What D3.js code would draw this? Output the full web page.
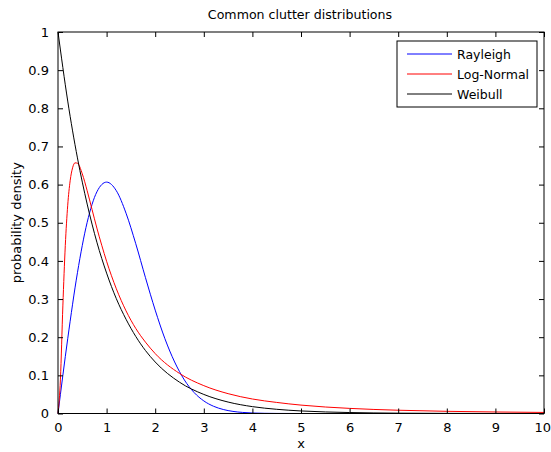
<!DOCTYPE html>
<html>
<head>
<meta charset="utf-8">
<script src="https://cdn.jsdelivr.net/npm/d3@7"></script>
<style>
  body { margin: 0; background: #fff; }
  text { font-family: "DejaVu Sans", sans-serif; fill: #000; }
</style>
</head>
<body>
<svg id="chart"></svg>
<script>
const width = 551, height = 452

// values
const rayleighX = [0, 0.2, 0.4, 0.6, 0.8, 1.0, 1.2, 1.4, 1.6, 1.8, 2.0, 2.2, 2.4, 2.6, 2.8, 3.0, 3.2, 3.4, 3.6, 3.8, 4.0, 4.5, 5, 6, 7, 8, 9, 10]
const rayleighY = [0, 0.196, 0.369, 0.501, 0.581, 0.6065, 0.584, 0.525, 0.445, 0.356, 0.271, 0.196, 0.135, 0.088, 0.055, 0.033, 0.019, 0.0105, 0.0055, 0.0028, 0.0013, 0.0002, 0, 0, 0, 0, 0, 0]

const lognormX = [0, 0.05, 0.1, 0.15, 0.2, 0.25, 0.3, 0.35, 0.4, 0.5, 0.6, 0.7, 0.8, 0.9, 1.0, 1.2, 1.4, 1.6, 1.8, 2.0, 2.5, 3, 3.5, 4, 4.5, 5, 6, 7, 8, 9, 10]
const lognormY = [0, 0.090, 0.282, 0.440, 0.546, 0.610, 0.644, 0.657, 0.656, 0.628, 0.584, 0.535, 0.486, 0.441, 0.399, 0.327, 0.269, 0.223, 0.187, 0.157, 0.105, 0.073, 0.052, 0.038, 0.029, 0.022, 0.0134, 0.0086, 0.0057, 0.0040, 0.0028]

const weibullX = [0, 0.2, 0.4, 0.6, 0.8, 1.0, 1.2, 1.4, 1.6, 1.8, 2.0, 2.5, 3, 3.5, 4, 4.5, 5, 6, 7, 8, 9, 10]
const weibullY = [1, 0.819, 0.670, 0.549, 0.449, 0.368, 0.301, 0.247, 0.202, 0.165, 0.135, 0.082, 0.050, 0.030, 0.018, 0.011, 0.0067, 0.0025, 0.0009, 0.0003, 0.0001, 0]

const seriesNames = ["Rayleigh", "Log-Normal", "Weibull"]
const seriesColors = ["#0000ff", "#ff0000", "#000000"]
const xTicks = [0, 1, 2, 3, 4, 5, 6, 7, 8, 9, 10]
const yTicks = [0, 0.1, 0.2, 0.3, 0.4, 0.5, 0.6, 0.7, 0.8, 0.9, 1]

const margin = { left: 58, right: 7, top: 32, bottom: 38.5 }
const pw = width - margin.left - margin.right
const ph = height - margin.top - margin.bottom

const svg = d3.select("#chart")
    .attr("width", width)
    .attr("height", height)

const x = d3.scaleLinear().domain([0, 10]).range([margin.left, margin.left + pw])
const y = d3.scaleLinear().domain([0, 1]).range([margin.top + ph, margin.top])

// lines
const series = [
    { xs: rayleighX, ys: rayleighY },
    { xs: lognormX, ys: lognormY },
    { xs: weibullX, ys: weibullY }
]
const line = d3.line()
    .x(d => x(d[0]))
    .y(d => y(d[1]))
    .curve(d3.curveMonotoneX)

const plot = svg.append("g")
series.forEach((s, i) => {
    plot.append("path")
        .datum(s.xs.map((v, j) => [v, s.ys[j]]))
        .attr("fill", "none")
        .attr("stroke", seriesColors[i])
        .attr("stroke-width", 1)
        .attr("d", line)
})

// axes, ticks pointing inward, box all round
const tickLen = 5
const xAxisG = svg.append("g")
    .attr("transform", `translate(0,${margin.top + ph})`)
    .call(d3.axisBottom(x).tickValues(xTicks).tickSizeInner(-tickLen).tickSizeOuter(0).tickPadding(9).tickFormat(d3.format("d")))
svg.append("g")
    .attr("transform", `translate(0,${margin.top})`)
    .call(d3.axisTop(x).tickValues(xTicks).tickSizeInner(-tickLen).tickSizeOuter(0).tickFormat(""))
svg.append("g")
    .attr("transform", `translate(${margin.left},0)`)
    .call(d3.axisLeft(y).tickValues(yTicks).tickSizeInner(-tickLen).tickSizeOuter(0).tickPadding(9).tickFormat(d => d === 0 || d === 1 ? String(d) : d3.format(".1f")(d)))
svg.append("g")
    .attr("transform", `translate(${margin.left + pw},0)`)
    .call(d3.axisRight(y).tickValues(yTicks).tickSizeInner(-tickLen).tickSizeOuter(0).tickFormat(""))

svg.selectAll(".domain").remove()
svg.selectAll(".tick line").attr("stroke", "#000")
svg.selectAll(".tick text").style("font-size", "13px").attr("fill", "#000")

// keep the last x label inside the window
xAxisG.selectAll(".tick text")
    .filter(d => d === 10)
    .attr("text-anchor", "end")
    .attr("x", 6.5)

svg.append("rect")
    .attr("x", margin.left)
    .attr("y", margin.top)
    .attr("width", pw)
    .attr("height", ph)
    .attr("fill", "none")
    .attr("stroke", "#000")
    .attr("stroke-width", 1)

// labels
svg.append("text")
    .attr("x", margin.left + pw / 2 - 1)
    .attr("y", 19)
    .attr("text-anchor", "middle")
    .style("font-size", "12.6px")
    .text("Common clutter distributions")

svg.append("text")
    .attr("x", margin.left + pw / 2)
    .attr("y", 448)
    .attr("text-anchor", "middle")
    .style("font-size", "13px")
    .text("x")

svg.append("text")
    .attr("transform", `translate(21,${margin.top + ph / 2}) rotate(-90)`)
    .attr("text-anchor", "middle")
    .style("font-size", "13px")
    .text("probability density")

// legend
const lg = svg.append("g").attr("transform", "translate(397,41)")
lg.append("rect")
    .attr("width", 140)
    .attr("height", 66)
    .attr("fill", "#fff")
    .attr("stroke", "#000")
seriesNames.forEach((name, i) => {
    const cy = 13 + i * 20
    lg.append("line")
        .attr("x1", 10).attr("x2", 55)
        .attr("y1", cy).attr("y2", cy)
        .attr("stroke", seriesColors[i])
    lg.append("text")
        .attr("x", 60)
        .attr("y", cy + 4.5)
        .style("font-size", "12.5px")
        .text(name)
})
</script>
</body>
</html>
